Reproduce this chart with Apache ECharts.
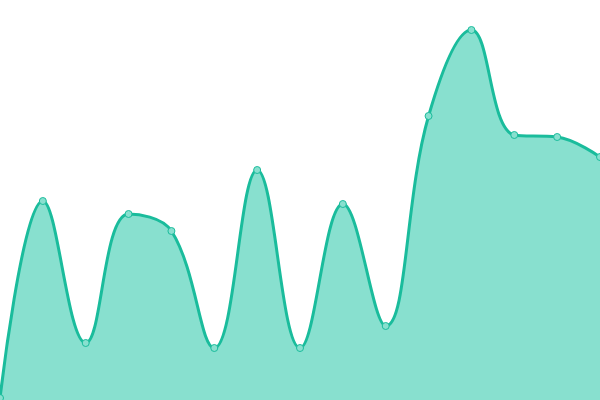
<!DOCTYPE html>
<html lang="en">
<head>
    <meta charset="UTF-8">
    <title>Area</title>
    <script src="https://cdn.jsdelivr.net/npm/echarts@6/dist/echarts.min.js"></script>
    <style>html,body{margin:0;padding:0;background:#fff;}</style>
</head>
<body>
<div id="main" style="width: 600px;height:400px;"></div>
<script type="text/javascript">
    // data
    var categories = ['1', '2', '3', '4', '5', '6', '7', '8', '9', '10', '11', '12', '13', '14', '15'];
    var values = [2, 199, 57, 186, 169, 52, 230, 52, 196, 74, 284, 370, 265, 263, 243];

    var myChart = echarts.init(document.getElementById('main'));
    myChart.setOption({
        animation: false,
        grid: {left: 0, right: 0, top: 0, bottom: 0},
        xAxis: {
            type: 'category',
            data: categories,
            boundaryGap: false,
            show: false
        },
        yAxis: {
            type: 'value',
            min: 0,
            max: 400,
            show: false
        },
        series: [{
            type: 'line',
            data: values,
            smooth: 0.4,
            symbol: 'circle',
            symbolSize: 7,
            lineStyle: {color: '#1abc9c', width: 3},
            itemStyle: {color: '#88e0cf', borderColor: '#1abc9c', borderWidth: 1},
            areaStyle: {color: '#88e0cf', opacity: 1}
        }]
    });
</script>
</body>
</html>
